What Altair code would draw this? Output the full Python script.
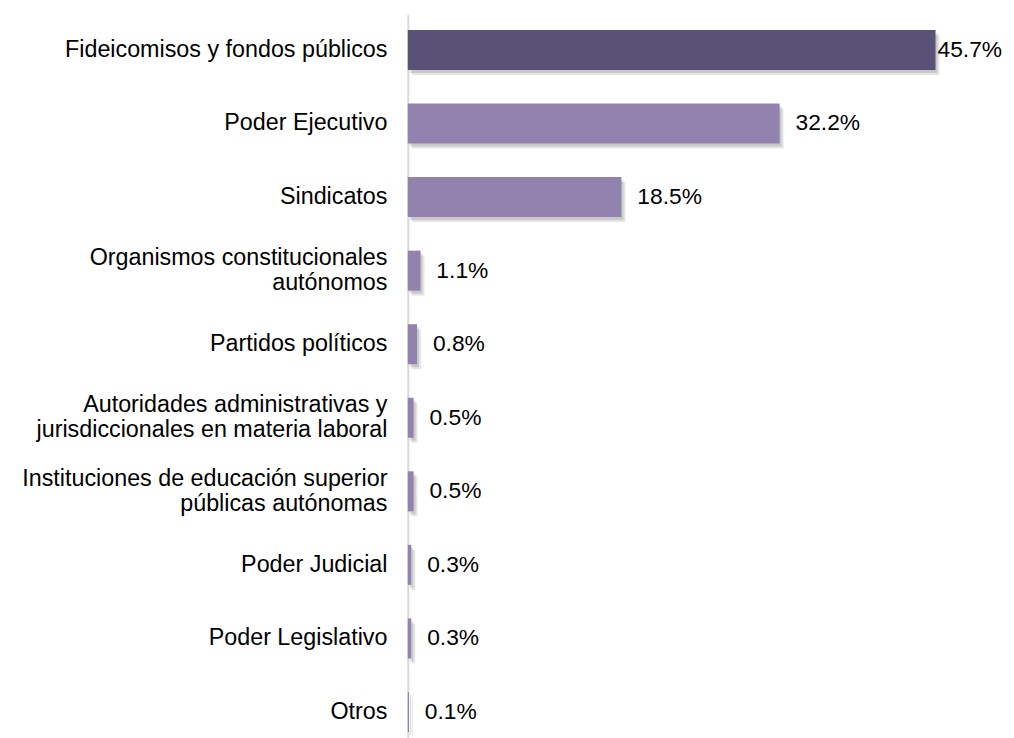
import altair as alt
import pandas as pd

categories = [
    "Fideicomisos y fondos públicos",
    "Poder Ejecutivo",
    "Sindicatos",
    "Organismos constitucionales|autónomos",
    "Partidos políticos",
    "Autoridades administrativas y|jurisdiccionales en materia laboral",
    "Instituciones de educación superior|públicas autónomas",
    "Poder Judicial",
    "Poder Legislativo",
    "Otros",
]
values = [45.7, 32.2, 18.5, 1.1, 0.8, 0.5, 0.5, 0.3, 0.3, 0.1]
labels = ["45.7%", "32.2%", "18.5%", "1.1%", "0.8%", "0.5%", "0.5%", "0.3%", "0.3%", "0.1%"]
highlight = [True] + [False] * 9

df = pd.DataFrame({"cat": categories, "value": values, "label": labels, "hl": highlight})

FONT = "Liberation Sans"

y_enc = alt.Y(
    "cat:N",
    sort=categories,
    title=None,
    scale=alt.Scale(paddingInner=0.456, paddingOuter=0.218),
    axis=alt.Axis(
        labelExpr="split(datum.label, '|')",
        labelFont=FONT,
        labelFontSize=23.5,
        labelColor="#000000",
        labelPadding=21,
        labelLineHeight=25,
        labelOffset={"condition": {"test": "indexof(datum.value, '|') >= 0", "value": -12.5}, "value": 0},
        ticks=False,
        domainColor="#d9d9d9",
        domainWidth=2,
        labelLimit=420,
    ),
)
x_enc = alt.X(
    "value:Q",
    scale=alt.Scale(domain=[0, 50]),
    axis=None,
)

base = alt.Chart(df)

shadow1 = base.mark_bar(color="#000000", opacity=0.10).encode(
    x=x_enc, y=y_enc, xOffset=alt.value(4), yOffset=alt.value(5)
)
shadow2 = base.mark_bar(color="#000000", opacity=0.12).encode(
    x=x_enc, y=y_enc, xOffset=alt.value(2), yOffset=alt.value(3)
)

bars = base.mark_bar().encode(
    x=x_enc,
    y=y_enc,
    color=alt.condition("datum.hl", alt.value("#5a5177"), alt.value("#9182ae")),
)

text_big = base.transform_filter("datum.value > 40").mark_text(
    align="left", baseline="middle", font=FONT, fontSize=23, color="#000000", dx=2
).encode(x=x_enc, y=y_enc, text="label:N")

text_small = base.transform_filter("datum.value <= 40").mark_text(
    align="left", baseline="middle", font=FONT, fontSize=23, color="#000000", dx=16
).encode(x=x_enc, y=y_enc, text="label:N")

chart = (
    alt.layer(shadow1, shadow2, bars, text_big, text_small)
    .properties(
        width=582,
        height=740,
        padding={"left": 403, "top": 3, "right": 21, "bottom": 0},
        autosize=alt.AutoSizeParams(type="none"),
    )
    .configure_view(stroke=None)
)

chart.save("out.html", embed_options={"renderer": "svg", "actions": False})
